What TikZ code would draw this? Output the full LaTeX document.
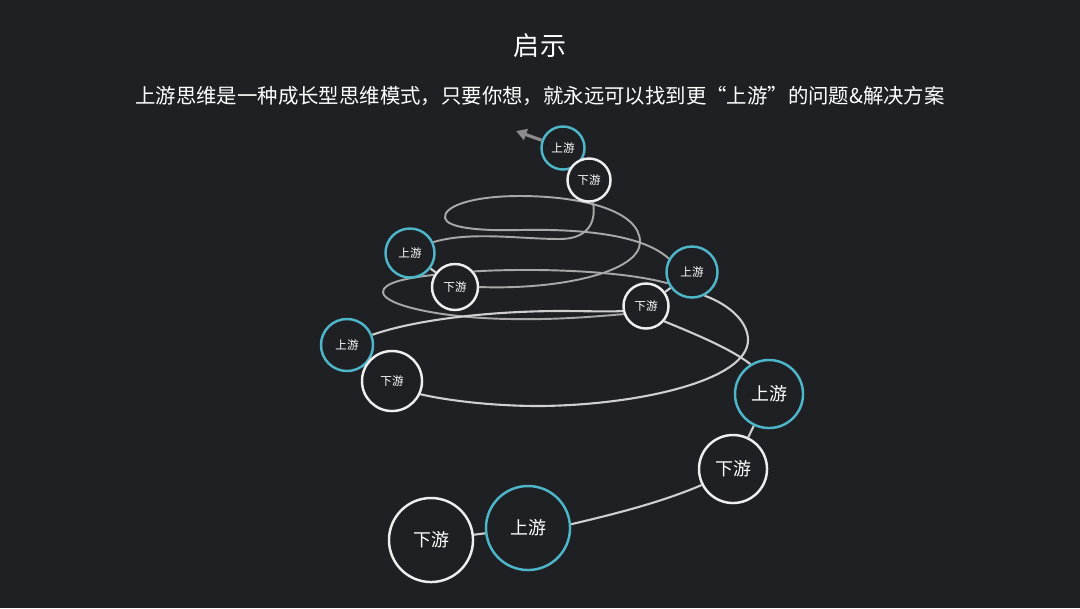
\documentclass[tikz,border=0pt]{standalone}
\usepackage{fontspec}
\usepackage{tikz}
\usetikzlibrary{arrows.meta}
\newfontfamily\cjk{Noto Sans CJK SC}
\definecolor{bgdark}{HTML}{1F2024}
\definecolor{upcyan}{HTML}{4DB6C9}
\definecolor{downwhite}{HTML}{EEEEEE}
\definecolor{ringgray}{HTML}{A8A8A8}
\definecolor{ringlight}{HTML}{CFCFCF}
\definecolor{arrowgray}{HTML}{8C8C8C}
\pgfdeclarelayer{canvas}
\pgfdeclarelayer{lines}
\pgfsetlayers{canvas,lines,main}

\begin{document}
\begin{tikzpicture}[
      x=0.01cm, y=-0.01cm,
      upnode/.style={circle,draw=upcyan,fill=bgdark,line width=0.7pt,inner sep=0pt,text=white,
        font=\cjk\fontsize{3.3pt}{4pt}\selectfont},
      downnode/.style={upnode,draw=downwhite},
      bigtext/.style={font=\cjk\fontsize{5.1pt}{6pt}\selectfont},
      ring/.style={ringgray,line width=0.55pt},
      ringlow/.style={ringlight,line width=0.6pt},
      label/.style={text=white,align=center}
    ]
    \begin{pgfonlayer}{canvas}
      \fill[bgdark] (0,0) rectangle (1080,608);
    \end{pgfonlayer}

    \node[label,font=\cjk\fontsize{7.4pt}{9pt}\selectfont] (title) at (540,46) {启示};
    \node[label,font=\cjk\fontsize{5.8pt}{7pt}\selectfont] (subtitle) at (540,96)
      {上游思维是一种成长型思维模式，只要你想，就永远可以找到更“上游”的问题\&解决方案};

    % circles, top to bottom
    \node[upnode,minimum size=0.43cm] (U1) at (563,148) {上游};
    \node[downnode,minimum size=0.43cm] (D1) at (589,180) {下游};
    \node[upnode,minimum size=0.49cm] (U2) at (410,253) {上游};
    \node[downnode,minimum size=0.46cm] (D2) at (455,287) {下游};
    \node[upnode,minimum size=0.51cm] (U3) at (692,272) {上游};
    \node[downnode,minimum size=0.45cm] (D3) at (646,306) {下游};
    \node[upnode,minimum size=0.52cm] (U4) at (347,345) {上游};
    \node[downnode,minimum size=0.60cm] (D4) at (392,381) {下游};
    \node[upnode,bigtext,minimum size=0.68cm] (U5) at (769,394) {上游};
    \node[downnode,bigtext,minimum size=0.68cm] (D5) at (733,469) {下游};
    \node[upnode,bigtext,minimum size=0.84cm] (U6) at (528,528) {上游};
    \node[downnode,bigtext,minimum size=0.84cm] (D6) at (431,540) {下游};

    \coordinate (tip) at (516,131);
    \draw[arrowgray,line width=0.9pt,-{Triangle[length=3pt,width=3.2pt]}] (U1.160) -- (tip);

    \begin{pgfonlayer}{lines}
      % upper turns
      \draw[ring] (D1.-80) .. controls (597,225) and (585,239) .. (560,239)
        .. controls (520,239) and (470,231) .. (U2.25);
      \draw[ring] (D2.0) .. controls (560,290) and (640,272) .. (640,242)
        .. controls (640,210) and (580,196) .. (520,196)
        .. controls (470,196) and (443,207) .. (445,218)
        .. controls (447,228) and (480,231) .. (520,230)
        .. controls (570,229) and (640,232) .. (U3.150);
      \draw[ring] (D2.40) .. controls (530,268) and (620,270) .. (U3.205);
      \draw[ring] (D2.150) .. controls (405,278) and (383,283) .. (383,292)
        .. controls (383,305) and (440,318) .. (510,319)
        .. controls (560,320) and (600,316) .. (D3.200);
      % middle turn
      \draw[ringlow] (U4.22) .. controls (420,318) and (500,311) .. (560,311)
        .. controls (590,311) and (610,312) .. (D3.192);
      \draw[ringlow] (D3.-40) .. controls (690,332) and (730,348) .. (U5.122);
      \draw[ringlow] (U3.-62) .. controls (730,305) and (748,322) .. (748,340)
        .. controls (748,380) and (640,405) .. (540,406)
        .. controls (490,406) and (445,400) .. (D4.-25);
      % lower turn
      \draw[ringlow] (U6.5) .. controls (610,515) and (660,503) .. (D5.207);
      \foreach \a/\b in {U1/D1,U2/D2,U3/D3,U4/D4,U5/D5,U6/D6}
        \draw[ringlow] (\a) -- (\b);
    \end{pgfonlayer}
  \end{tikzpicture}
\end{document}
